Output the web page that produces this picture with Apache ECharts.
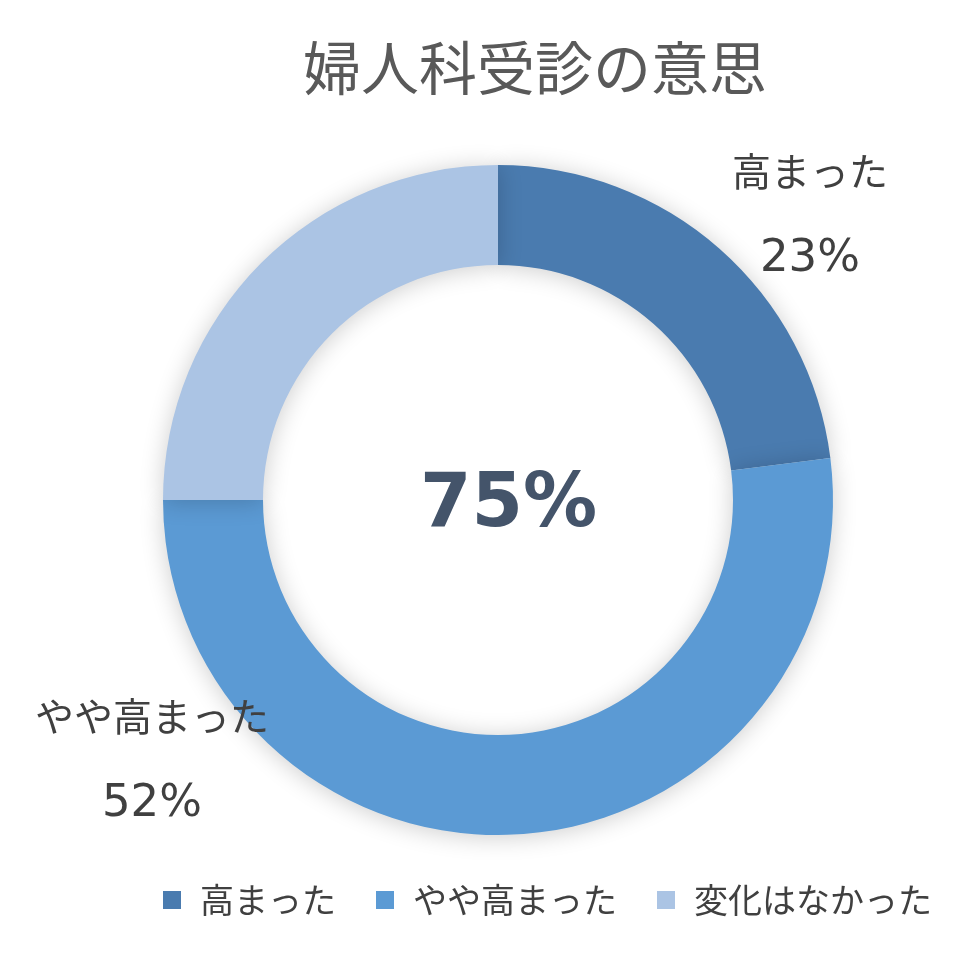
<!DOCTYPE html>
<html>
<head>
<meta charset="utf-8">
<script src="https://cdn.jsdelivr.net/npm/echarts@6/dist/echarts.min.js"></script>
<style>html,body{margin:0;padding:0;background:#fff;}#c{width:968px;height:958px;}</style>
</head>
<body>
<div id="c"></div>
<script>
var titleText = '婦人科受診の意思';
var centerText = '75%';
var categories = ['高まった', 'やや高まった', '変化はなかった'];
var values = [23, 52, 25];
var colors = ['#4A7BAF', '#5B9AD4', '#ABC4E4'];
var showLabel = [true, true, false];
var labelPos = [[810, 215], [152, 760]];

var font = '"Noto Sans CJK JP", "Noto Sans", sans-serif';
var chart = echarts.init(document.getElementById('c'));
var data = categories.map(function (n, i) {
  return {
    name: n, value: values[i],
    itemStyle: { color: colors[i] },
    label: { show: showLabel[i] }
  };
});
chart.setOption({
  animation: false,
  title: {
    text: titleText, left: 530, top: 34, textAlign: 'center',
    textStyle: { fontFamily: font, fontSize: 58, fontWeight: 'normal', color: '#595959' }
  },
  legend: {
    bottom: 36, left: 158, itemWidth: 18, itemHeight: 18, itemGap: 40,
    icon: 'rect',
    textStyle: { fontFamily: font, fontSize: 34, color: '#404040', padding: [0, 0, 0, 14] },
    data: categories
  },
  graphic: [{
    type: 'text', left: 420, top: 470,
    style: { text: centerText, fontFamily: 'Verdana, "DejaVu Sans", sans-serif', fontWeight: 'bold', fontSize: 74, fill: '#44546A' }
  }],
  series: [{
    type: 'pie',
    center: [498, 500],
    radius: [235, 335],
    startAngle: 90,
    clockwise: true,
    avoidLabelOverlap: false,
    itemStyle: { shadowBlur: 24, shadowColor: 'rgba(0,0,0,0.2)', shadowOffsetX: 0, shadowOffsetY: 2 },
    label: {
      position: 'outside',
      formatter: '{n|{b}}\n{p|{c}%}',
      align: 'center',
      rich: {
        n: { fontFamily: font, fontSize: 39, color: '#404040', lineHeight: 88, align: 'center' },
        p: { fontFamily: '"DejaVu Sans", Verdana, sans-serif', fontSize: 45, color: '#404040', lineHeight: 88, align: 'center' }
      }
    },
    labelLine: { show: false },
    labelLayout: function (p) {
      var pos = labelPos[p.dataIndex];
      if (!pos) return {};
      return { x: pos[0], y: pos[1], align: 'center', verticalAlign: 'middle' };
    },
    emphasis: { disabled: true },
    data: data
  }]
});
</script>
</body>
</html>
